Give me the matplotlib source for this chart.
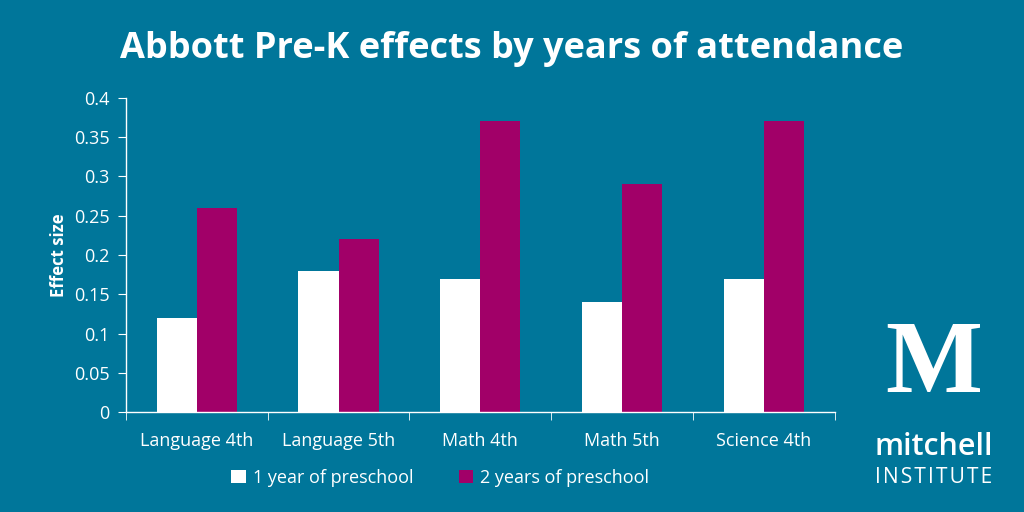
import matplotlib
matplotlib.use('Agg')
import matplotlib.pyplot as plt
import numpy as np

# Données du graphique
categories = ['Language 4th', 'Language 5th', 'Math 4th', 'Math 5th', 'Science 4th']
one_year = [0.12, 0.18, 0.17, 0.14, 0.17]
two_years = [0.26, 0.22, 0.37, 0.29, 0.37]
series_labels = ['1 year of preschool', '2 years of preschool']
title = 'Abbott Pre-K effects by years of attendance'
y_label = 'Effect size'
y_ticks = [0, 0.05, 0.1, 0.15, 0.2, 0.25, 0.3, 0.35, 0.4]

bg = '#00769A'
purple = '#A10068'
plt.rcParams['font.family'] = ['Open Sans', 'DejaVu Sans']

fig = plt.figure(figsize=(10.24, 5.12), dpi=100, facecolor=bg)
ax = fig.add_axes([0.123, 0.195, 0.692, 0.614], facecolor=bg)

x = np.arange(len(categories))
w = 0.283
ax.bar(x - w / 2, one_year, w, color='white', label=series_labels[0])
ax.bar(x + w / 2, two_years, w, color=purple, label=series_labels[1])

ax.set_xlim(-0.5, len(categories) - 0.5)
ax.set_ylim(0, 0.4)
ax.set_yticks(y_ticks)
ax.set_yticklabels([f'{t:g}' for t in y_ticks])
ax.set_xticks(x)
ax.set_xticklabels(categories)
ax.set_xticks(np.arange(len(categories) + 1) - 0.5, minor=True)

for s in ['top', 'right']:
    ax.spines[s].set_visible(False)
for s in ['left', 'bottom']:
    ax.spines[s].set_color('white')
    ax.spines[s].set_linewidth(1)

ax.tick_params(axis='y', colors='white', labelsize=13, length=6, direction='out', pad=6)
ax.tick_params(axis='x', which='major', length=0, colors='white', labelsize=13, pad=14)
ax.tick_params(axis='x', which='minor', length=6, color='white', direction='out')

ax.set_ylabel(y_label, color='white', fontsize=12, fontweight='bold', labelpad=4)

fig.text(0.5, 0.905, title, ha='center', va='center', color='white',
         fontsize=26, fontweight='bold')

leg = fig.legend(loc='center', bbox_to_anchor=(0.43, 0.067), ncol=2, frameon=False,
                 fontsize=13, labelcolor='white', handlelength=0.8, handleheight=0.8,
                 handletextpad=0.4, columnspacing=2.5)

# Logo Mitchell Institute
fig.text(0.912, 0.234, 'M', ha='center', va='baseline', color='white',
         fontsize=74, fontweight='bold', fontfamily='Liberation Serif')
fig.text(0.912, 0.111, 'mitchell', ha='center', va='baseline', color='white',
         fontsize=22, fontweight='semibold')
fig.text(0.912, 0.056, 'I\u200aN\u200aS\u200aT\u200aI\u200aT\u200aU\u200aT\u200aE',
         ha='center', va='baseline', color='white', fontsize=15)

fig.savefig('out.png', dpi=100, facecolor=bg)
